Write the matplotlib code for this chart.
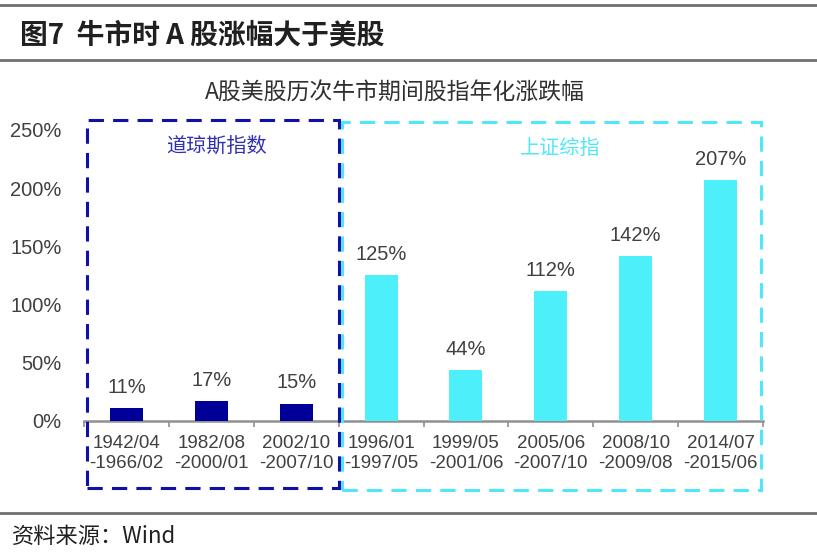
import matplotlib.pyplot as plt
from matplotlib.patches import Rectangle
from matplotlib.lines import Line2D
from matplotlib.ticker import FuncFormatter, FixedLocator

plt.rcParams['font.family'] = ['Liberation Sans', 'Noto Sans CJK SC', 'DejaVu Sans']

# Data
periods = ['1942/04\n-1966/02', '1982/08\n-2000/01', '2002/10\n-2007/10',
           '1996/01\n-1997/05', '1999/05\n-2001/06', '2005/06\n-2007/10',
           '2008/10\n-2009/08', '2014/07\n-2015/06']
growth = [0.11, 0.17, 0.15, 1.25, 0.44, 1.12, 1.42, 2.07]
groups = ['dow', 'dow', 'dow', 'sh', 'sh', 'sh', 'sh', 'sh']
group_names = {'dow': '道琼斯指数', 'sh': '上证综指'}

colors = {'dow': '#000099', 'sh': '#4DF0FA'}
box_colors = {'dow': '#1010A8', 'sh': '#50E8F8'}
text_grey = '#404040'
cjk = ['Noto Sans CJK SC', 'DejaVu Sans']

fig = plt.figure(figsize=(8.17, 5.53), dpi=100)
ax = fig.add_axes([84 / 817, 1 - 421 / 553, (763 - 84) / 817, (421 - 130) / 553])

x = list(range(len(growth)))
ax.bar(x, growth, width=0.39, color=[colors[g] for g in groups], zorder=3)

for xi, v in zip(x, growth):
    ax.annotate(f'{v * 100:.0f}%', (xi, v), xytext=(0, 8), textcoords='offset points',
                ha='center', va='bottom', fontsize=14.5, color=text_grey)

ax.set_xlim(-0.5, len(growth) - 0.5)
ax.set_ylim(0, 2.5)
ax.set_yticks([0, 0.5, 1.0, 1.5, 2.0, 2.5])
ax.yaxis.set_major_formatter(FuncFormatter(lambda v, p: f'{v * 100:.0f}%'))
ax.tick_params(axis='y', length=0, labelsize=14.5, labelcolor=text_grey, pad=16)

ax.set_xticks(x)
ax.set_xticklabels(periods, fontsize=13.5, color=text_grey, linespacing=1.25)
ax.tick_params(axis='x', which='major', length=0, pad=10)
ax.xaxis.set_minor_locator(FixedLocator([i - 0.5 for i in range(len(growth) + 1)]))
ax.tick_params(axis='x', which='minor', length=4, color='#909090', width=1.2)

for s in ['top', 'right', 'left']:
    ax.spines[s].set_visible(False)
ax.spines['bottom'].set_color('#909090')
ax.spines['bottom'].set_linewidth(1.8)

# dashed group boxes
boxes = {'dow': (-0.465, 2.50, -0.576, 2.586), 'sh': (2.535, 7.475, -0.59, 2.57)}
label_pos = {'dow': (1.06, 2.36), 'sh': (5.11, 2.34)}
for g, (x0, x1, y0, y1) in boxes.items():
    ax.add_patch(Rectangle((x0, y0), x1 - x0, y1 - y0, fill=False, edgecolor=box_colors[g],
                           linestyle=(0, (5, 3)), linewidth=2.2, clip_on=False, zorder=4))
    lx, ly = label_pos[g]
    ax.text(lx, ly, group_names[g], ha='center', va='center', fontsize=14.5,
            color=box_colors[g] if g == 'sh' else '#3030B0', family=cjk)

# header / footer
for yy in [5, 60, 513]:
    fig.add_artist(Line2D([0, 1], [1 - yy / 553] * 2, color='#707070', linewidth=2.0))

fig.text(20 / 817, 1 - 35 / 553, '图7  牛市时 A 股涨幅大于美股', fontsize=20, fontweight='bold',
         ha='left', va='center', color='#202020', family=cjk)
fig.text(395 / 817, 1 - 93 / 553, 'A股美股历次牛市期间股指年化涨跌幅', fontsize=16.5,
         ha='center', va='center', color='#303030', family=cjk)
fig.text(12 / 817, 1 - 536 / 553, '资料来源：Wind', fontsize=16,
         ha='left', va='center', color='#202020', family=cjk)

fig.savefig('out.png', dpi=100)
